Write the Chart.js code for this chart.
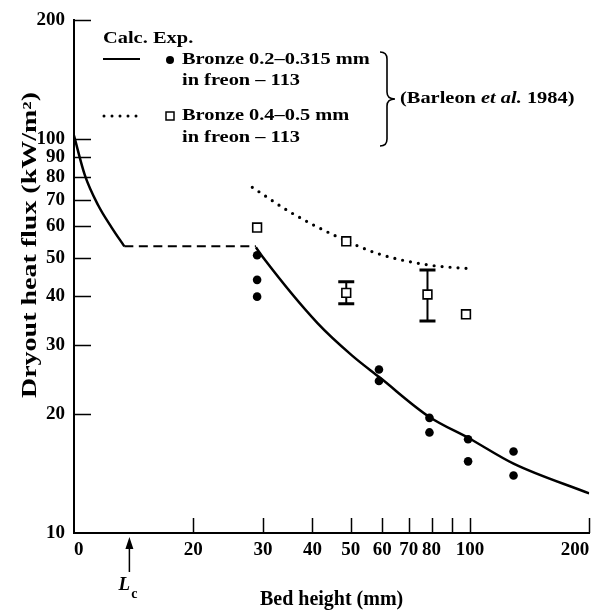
<!DOCTYPE html>
<html>
<head>
<meta charset="utf-8">
<script src="https://cdn.jsdelivr.net/npm/chart.js@4.4.0/dist/chart.umd.min.js"></script>
<style>
  html, body { margin: 0; padding: 0; background: #fff; }
  #c { display: block; }
</style>
</head>
<body>
<canvas id="c" width="597" height="615"></canvas>
<script>
// 目盛り（両対数、左端の 10 は "0" 表記）
const xTicks = [10, 20, 30, 40, 50, 60, 70, 80, 90, 100, 200];
const xTickLabels = ['0', '20', '30', '40', '50', '60', '70', '80', '', '100', '200'];
const yTicks = [10, 20, 30, 40, 50, 60, 70, 80, 90, 100, 200];

// 計算値 Bronze 0.2-0.315 mm（実線 + 破線の平坦部）
const calcLowX = [10, 10.65, 11.5, 12.45, 13.4];
const calcLowY = [102, 81, 68, 59.6, 53.4];
const plateauX = [13.4, 28.8];
const plateauY = [53.4, 53.4];
const calcHighX = [28.8, 30, 41.2, 50.4, 59.2, 79, 99.4, 128.8, 200];
const calcHighY = [53.1, 50.1, 34.1, 28.2, 24.8, 19.7, 17.4, 15.0, 12.6];

// 計算値 Bronze 0.4-0.5 mm（点線）
const calcCoarseX = [28.2, 35.1, 46.2, 59.2, 78.5, 102];
const calcCoarseY = [75.4, 65.3, 56.5, 51.0, 47.9, 46.8];

// 実験値
const expFineX = [29, 29, 29, 58.9, 58.9, 79, 79, 98.9, 98.9, 128.8, 128.8];
const expFineY = [50.7, 43.9, 39.8, 26.0, 24.3, 19.6, 18.0, 17.3, 15.2, 16.1, 14.0];
const expCoarseX = [29, 48.7, 48.7, 78.1, 97.7];
const expCoarseY = [59.6, 55.0, 40.7, 40.3, 35.9];

// エラーバー
const errX = [48.7, 78.1];
const errLow = [38.2, 34.5];
const errHigh = [43.4, 46.5];

// L_c の位置
const LC = 13.8;

const FONT = "'Liberation Serif', 'DejaVu Serif', serif";
const pts = (xs, ys) => xs.map((x, i) => ({ x, y: ys[i] }));

// 横に引き伸ばした文字（元図の書体は幅が広い）
function wideText(ctx, text, x, y, sx) {
  ctx.save();
  ctx.translate(x, y);
  ctx.scale(sx, 1);
  ctx.fillText(text, 0, 0);
  ctx.restore();
  return ctx.measureText(text).width * sx;
}

// 内向きの目盛り線
const innerTicks = {
  id: 'innerTicks',
  afterDatasetsDraw(chart) {
    const { ctx, chartArea: a, scales: { x, y } } = chart;
    ctx.save();
    ctx.strokeStyle = '#000';
    ctx.lineWidth = 1.5;
    ctx.beginPath();
    xTicks.forEach(v => {
      if (v === 10) return;
      const px = Math.round(x.getPixelForValue(v)) + 0.5;
      ctx.moveTo(px, a.bottom);
      ctx.lineTo(px, a.bottom - 15);
    });
    yTicks.forEach(v => {
      if (v === 10) return;
      const py = Math.round(y.getPixelForValue(v)) + 0.5;
      ctx.moveTo(a.left, py);
      ctx.lineTo(a.left + 17, py);
    });
    ctx.stroke();
    ctx.restore();
  }
};

// エラーバー（四角の下に描く）
const errorBars = {
  id: 'errorBars',
  beforeDatasetsDraw(chart) {
    const { ctx, scales: { x, y } } = chart;
    ctx.save();
    ctx.strokeStyle = '#000';
    errX.forEach((v, i) => {
      const px = x.getPixelForValue(v);
      const top = y.getPixelForValue(errHigh[i]);
      const bot = y.getPixelForValue(errLow[i]);
      ctx.lineWidth = 2;
      ctx.beginPath();
      ctx.moveTo(px, top);
      ctx.lineTo(px, bot);
      ctx.stroke();
      ctx.lineWidth = 3;
      ctx.beginPath();
      ctx.moveTo(px - 8, top);
      ctx.lineTo(px + 8, top);
      ctx.moveTo(px - 8, bot);
      ctx.lineTo(px + 8, bot);
      ctx.stroke();
    });
    ctx.restore();
  }
};

// 凡例・縦軸タイトル・L_c
const annotations = {
  id: 'annotations',
  afterDraw(chart) {
    const { ctx, scales: { x } } = chart;
    ctx.save();
    ctx.fillStyle = '#000';
    ctx.strokeStyle = '#000';
    ctx.textBaseline = 'middle';
    ctx.textAlign = 'left';

    // 縦軸タイトル
    ctx.save();
    ctx.translate(31, 245);
    ctx.rotate(-Math.PI / 2);
    ctx.font = `bold 20px ${FONT}`;
    const yTitle = 'Dryout heat flux (kW/m²)';
    const sy = 306 / ctx.measureText(yTitle).width;
    wideText(ctx, yTitle, -153, 0, sy);
    ctx.restore();

    // 凡例
    const sx = 1.2;
    ctx.font = `bold 17px ${FONT}`;
    wideText(ctx, 'Calc.', 103, 39, sx);
    wideText(ctx, 'Exp.', 153, 39, sx);
    wideText(ctx, 'Bronze 0.2–0.315 mm', 182, 60, sx);
    wideText(ctx, 'in freon – 113', 182, 81, sx);
    wideText(ctx, 'Bronze 0.4–0.5 mm', 182, 116, sx);
    wideText(ctx, 'in freon – 113', 182, 138, sx);

    ctx.lineWidth = 2;
    ctx.beginPath();
    ctx.moveTo(103, 59);
    ctx.lineTo(140, 59);
    ctx.stroke();

    ctx.lineWidth = 3;
    ctx.lineCap = 'round';
    ctx.setLineDash([0, 8]);
    ctx.beginPath();
    ctx.moveTo(104, 116);
    ctx.lineTo(141, 116);
    ctx.stroke();
    ctx.setLineDash([]);
    ctx.lineCap = 'butt';

    ctx.beginPath();
    ctx.arc(170, 60, 4, 0, Math.PI * 2);
    ctx.fill();
    ctx.lineWidth = 1.5;
    ctx.strokeRect(166, 112, 8, 8);

    // 中括弧
    const bx = 385, top = 52, mid = 99, bot = 146;
    ctx.lineWidth = 1.6;
    ctx.beginPath();
    ctx.moveTo(bx - 5, top);
    ctx.quadraticCurveTo(bx + 2, top, bx + 2, top + 7);
    ctx.lineTo(bx + 2, mid - 7);
    ctx.quadraticCurveTo(bx + 2, mid, bx + 10, mid);
    ctx.quadraticCurveTo(bx + 2, mid, bx + 2, mid + 7);
    ctx.lineTo(bx + 2, bot - 7);
    ctx.quadraticCurveTo(bx + 2, bot, bx - 5, bot);
    ctx.stroke();

    let tx = bx + 15;
    ctx.font = `bold 17px ${FONT}`;
    tx += wideText(ctx, '(Barleon ', tx, mid, sx);
    ctx.font = `italic bold 17px ${FONT}`;
    tx += wideText(ctx, 'et al.', tx, mid, sx);
    ctx.font = `bold 17px ${FONT}`;
    wideText(ctx, ' 1984)', tx, mid, sx);

    // L_c 矢印
    const lx = x.getPixelForValue(LC);
    ctx.lineWidth = 1.5;
    ctx.beginPath();
    ctx.moveTo(lx, 545);
    ctx.lineTo(lx, 572);
    ctx.stroke();
    ctx.beginPath();
    ctx.moveTo(lx, 537);
    ctx.lineTo(lx - 4, 549);
    ctx.lineTo(lx + 4, 549);
    ctx.closePath();
    ctx.fill();
    ctx.textAlign = 'center';
    ctx.font = `italic bold 19px ${FONT}`;
    ctx.fillText('L', lx - 5, 585);
    ctx.font = `bold 14px ${FONT}`;
    ctx.fillText('c', lx + 5, 594);

    ctx.restore();
  }
};

const tickFont = { family: FONT, size: 19, weight: 'bold' };

new Chart(document.getElementById('c'), {
  type: 'line',
  data: {
    datasets: [
      {
        type: 'scatter',
        data: pts(expFineX, expFineY),
        pointStyle: 'circle',
        pointRadius: 4.3,
        backgroundColor: '#000',
        borderWidth: 0,
      },
      {
        type: 'scatter',
        data: pts(expCoarseX, expCoarseY),
        pointStyle: 'rect',
        pointRadius: 6.2,
        backgroundColor: '#fff',
        borderColor: '#000',
        borderWidth: 1.6,
      },
      {
        data: pts(calcLowX, calcLowY),
        borderColor: '#000',
        borderWidth: 2.5,
        pointRadius: 0,
        cubicInterpolationMode: 'monotone',
      },
      {
        data: pts(plateauX, plateauY),
        borderColor: '#000',
        borderWidth: 2,
        borderDash: [9, 5.5],
        pointRadius: 0,
      },
      {
        data: pts(calcHighX, calcHighY),
        borderColor: '#000',
        borderWidth: 2.5,
        pointRadius: 0,
        cubicInterpolationMode: 'monotone',
      },
      {
        data: pts(calcCoarseX, calcCoarseY),
        borderColor: '#000',
        borderWidth: 3.2,
        borderDash: [0, 8],
        borderCapStyle: 'round',
        pointRadius: 0,
        cubicInterpolationMode: 'monotone',
      },
    ],
  },
  options: {
    responsive: false,
    devicePixelRatio: 1,
    animation: false,
    events: [],
    layout: { padding: { left: 0, top: 15, right: 3, bottom: 0 } },
    plugins: {
      legend: { display: false },
      tooltip: { enabled: false },
    },
    scales: {
      x: {
        type: 'logarithmic',
        min: 10,
        max: 200,
        afterBuildTicks: s => { s.ticks = xTicks.map(v => ({ value: v })); },
        afterFit: s => { s.height = 82; },
        grid: { display: false, drawTicks: false },
        border: { display: true, color: '#000', width: 2 },
        ticks: {
          autoSkip: false,
          maxRotation: 0,
          align: 'inner',
          padding: 6,
          color: '#000',
          font: tickFont,
          callback: (v, i) => xTickLabels[i],
        },
        title: {
          display: true,
          text: 'Bed height (mm)',
          color: '#000',
          font: { family: FONT, size: 20, weight: 'bold' },
          padding: { top: 0, bottom: 3 },
        },
      },
      y: {
        type: 'logarithmic',
        min: 10,
        max: 200,
        afterBuildTicks: s => { s.ticks = yTicks.map(v => ({ value: v })); },
        afterFit: s => { s.width = 74; },
        grid: { display: false, drawTicks: false },
        border: { display: true, color: '#000', width: 2 },
        ticks: {
          autoSkip: false,
          padding: 9,
          color: '#000',
          font: tickFont,
          callback: v => String(v),
        },
      },
    },
  },
  plugins: [errorBars, innerTicks, annotations],
});
</script>
</body>
</html>
